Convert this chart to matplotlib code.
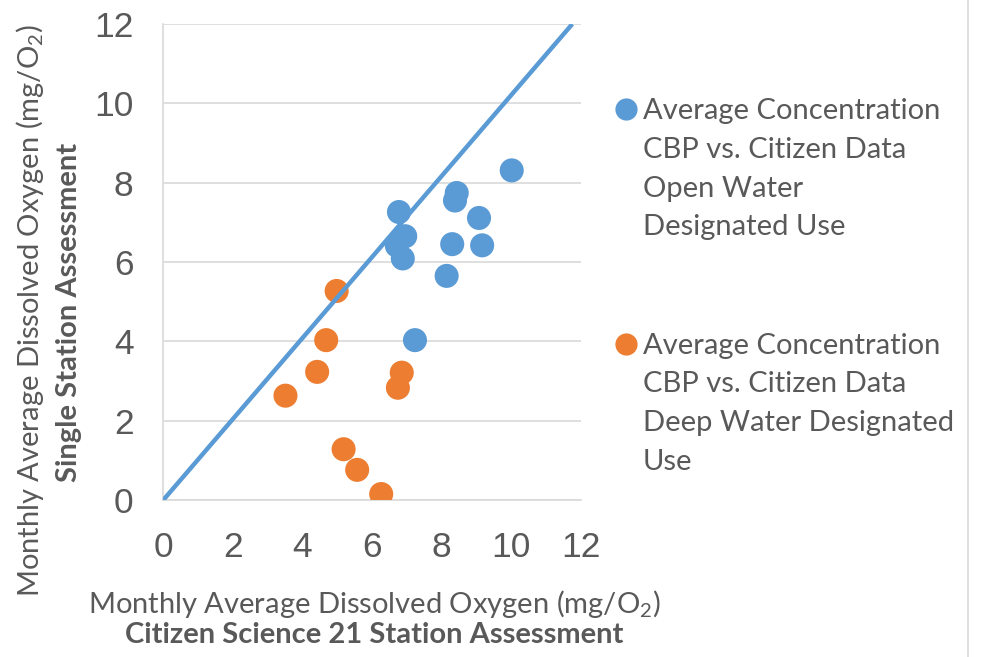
import matplotlib
matplotlib.use("Agg")
import matplotlib.pyplot as plt
from matplotlib.lines import Line2D

# Open Water designated use (blue)
open_x = [10.01, 8.43, 8.38, 9.07, 6.77, 6.95, 6.71, 6.88, 8.30, 9.16, 8.14, 7.23]
open_y = [8.31, 7.74, 7.55, 7.11, 7.26, 6.65, 6.41, 6.09, 6.45, 6.42, 5.65, 4.03]

# Deep Water designated use (orange)
deep_x = [4.98, 4.68, 4.42, 3.51, 6.85, 6.74, 5.18, 5.57, 6.26]
deep_y = [5.27, 4.03, 3.23, 2.63, 3.21, 2.83, 1.28, 0.76, 0.15]

# 1:1 reference line
ref_x = [0, 11.75]
ref_y = [0, 12]

ticks = [0, 2, 4, 6, 8, 10, 12]

legend_open = ["Average Concentration", "CBP vs. Citizen Data", "Open Water", "Designated Use"]
legend_deep = ["Average Concentration", "CBP vs. Citizen Data", "Deep Water Designated", "Use"]

BLUE = "#5B9BD5"
ORANGE = "#ED7D31"
GREY = "#595959"
GRID = "#D9D9D9"
TXT_FONT = ["Lato", "DejaVu Sans"]
TXT_SIZE = 21

plt.rcParams["mathtext.default"] = "regular"

W, H = 984, 657
fig = plt.figure(figsize=(W / 100, H / 100), dpi=100)
ax = fig.add_axes([163.3 / W, 1 - 500 / H, (581 - 163.3) / W, (500 - 24) / H])

ax.scatter(open_x, open_y, s=300, color=BLUE, edgecolors="none", zorder=3)
ax.scatter(deep_x, deep_y, s=300, color=ORANGE, edgecolors="none", zorder=3)
ax.plot(ref_x, ref_y, color=BLUE, lw=3.2, solid_capstyle="butt", zorder=4)

ax.set_xlim(0, 12)
ax.set_ylim(0, 12)
ax.set_xticks(ticks)
ax.set_yticks(ticks)
ax.tick_params(length=0, labelsize=25.5, labelcolor=GREY)
ax.tick_params(axis="x", pad=22.5)
ax.tick_params(axis="y", pad=21.5)
for lab in ax.get_xticklabels() + ax.get_yticklabels():
    lab.set_family("Liberation Sans")
ax.grid(axis="y", color=GRID, lw=1.2, zorder=0)
for side in ["top", "right"]:
    ax.spines[side].set_visible(False)
for side in ["left", "bottom"]:
    ax.spines[side].set_color(GRID)
    ax.spines[side].set_linewidth(1.2)

# axis titles
fig.text(374 / W, 1 - 613 / H, "Monthly Average Dissolved Oxygen (mg/O$_2$)",
         ha="center", va="baseline", fontsize=TXT_SIZE, color=GREY, family=TXT_FONT)
fig.text(374 / W, 1 - 643 / H, "Citizen Science 21 Station Assessment",
         ha="center", va="baseline", fontsize=TXT_SIZE, color=GREY, family=TXT_FONT,
         fontweight="bold")
fig.text(39 / W, 1 - 311 / H, "Monthly Average Dissolved Oxygen (mg/O$_2$)",
         ha="center", va="baseline", rotation=90, rotation_mode="anchor",
         fontsize=TXT_SIZE, color=GREY, family=TXT_FONT)
fig.text(77 / W, 1 - 312 / H, "Single Station Assessment",
         ha="center", va="baseline", rotation=90, rotation_mode="anchor",
         fontsize=TXT_SIZE, color=GREY, family=TXT_FONT, fontweight="bold")

# legend, drawn by hand so the marker sits on the first line
for lines, col, y0 in [(legend_open, BLUE, 109), (legend_deep, ORANGE, 343.5)]:
    fig.add_artist(Line2D([626 / W], [1 - y0 / H], marker="o", markersize=16,
                          color=col, markeredgecolor="none", linestyle="none"))
    for i, line in enumerate(lines):
        fig.text(643 / W, 1 - (y0 + 10 + i * 38.8) / H, line, ha="left",
                 va="baseline", fontsize=TXT_SIZE, color=GREY, family=TXT_FONT)

# chart border on the right
fig.add_artist(Line2D([968 / W, 968 / W], [0, 1], color=GRID, lw=1.2))

fig.savefig("out.png", dpi=100, facecolor="white")
